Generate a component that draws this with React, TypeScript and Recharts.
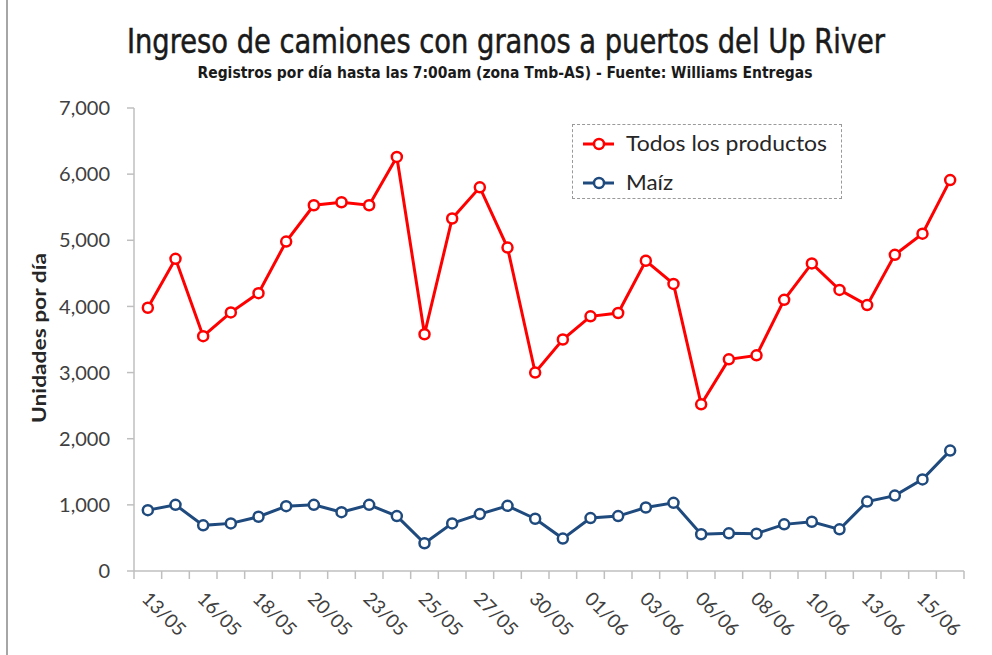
import React from "react";
import { LineChart, Line, XAxis, YAxis, Legend } from "recharts";

const dates = [
  "13/05", "15/05", "16/05", "17/05", "18/05", "19/05", "20/05", "22/05", "23/05", "24/05",
  "25/05", "26/05", "27/05", "29/05", "30/05", "31/05", "01/06", "02/06", "03/06", "05/06",
  "06/06", "07/06", "08/06", "09/06", "10/06", "12/06", "13/06", "14/06", "15/06", "16/06",
];
const todos = [
  3980, 4720, 3550, 3910, 4200, 4980, 5530, 5575, 5530, 6260,
  3580, 5330, 5800, 4890, 3000, 3500, 3850, 3900, 4690, 4340,
  2520, 3200, 3260, 4100, 4650, 4250, 4020, 4780, 5100, 5910,
];
const maiz = [
  920, 1000, 690, 720, 820, 980, 1000, 890, 1000, 830,
  420, 720, 860, 985, 790, 490, 800, 830, 960, 1030,
  555, 570, 565, 705, 745, 630, 1050, 1140, 1385, 1820,
];
const yTicks = [0, 1000, 2000, 3000, 4000, 5000, 6000, 7000];
const seriesNames = ["Todos los productos", "Maíz"];
const seriesColors = ["#FF0000", "#1F4A7E"];

const data = dates.map((d, i) => ({ idx: i, date: d, todos: todos[i], maiz: maiz[i] }));

const xTickValues: number[] = [];
for (let i = 0; i <= dates.length; i++) {
  xTickValues.push(i - 0.5);
  if (i < dates.length && i % 2 === 0) xTickValues.push(i);
}

const AXIS = "#BFBFBF";
const TEXT = "#404040";
const FONT = "Lato, 'Open Sans', 'Liberation Sans', sans-serif";

const XTick = (props: any) => {
  const { x, y, payload } = props;
  const v = payload.value as number;
  if (Math.abs(v - Math.round(v)) > 0.1) {
    return <line x1={x} y1={y} x2={x} y2={y + 8} stroke={AXIS} strokeWidth={1.5} />;
  }
  const label = dates[Math.round(v)];
  return (
    <text
      x={x - 7}
      y={y + 29}
      transform={`rotate(45, ${x - 7}, ${y + 29})`}
      textAnchor="start"
      fontSize={19}
      fontFamily={FONT}
      fill={TEXT}
    >
      {label}
    </text>
  );
};

const legendWidths = [201, 47];

const LegendContent = () => (
  <div
    style={{
      width: 270,
      height: 75,
      boxSizing: "border-box",
      border: "1.5px dashed #9a9a9a",
      background: "#fff",
      position: "relative",
    }}
  >
    <svg width={270} height={75} style={{ position: "absolute", left: 0, top: 0 }}>
      {seriesNames.map((n, i) => {
        const cy = 19 + i * 39;
        return (
          <g key={n}>
            <line x1={10} y1={cy} x2={41} y2={cy} stroke={seriesColors[i]} strokeWidth={3} />
            <circle cx={26} cy={cy} r={5} fill="#fff" stroke={seriesColors[i]} strokeWidth={2.5} />
            <text
              x={53}
              y={cy + 7}
              fontSize={21}
              fontFamily={FONT}
              fill="#262626"
              textLength={legendWidths[i]}
              lengthAdjust="spacingAndGlyphs"
            >
              {n}
            </text>
          </g>
        );
      })}
    </svg>
  </div>
);

export default function App() {
  return (
    <div style={{ position: "absolute", left: 0, top: 0, width: 992, height: 655, background: "#fff" }}>
      <div style={{ position: "absolute", left: 6, top: 0, width: 1.5, height: 655, background: "#A6A6A6" }} />
      <svg width={992} height={100} style={{ position: "absolute", left: 0, top: 0 }}>
        <text
          x={506}
          y={53}
          textAnchor="middle"
          fontSize={34}
          fontFamily="'Liberation Sans Narrow', 'DejaVu Sans Condensed', 'Liberation Sans', sans-serif"
          fill="#1a1a1a"
          stroke="#1a1a1a"
          strokeWidth={0.5}
          textLength={758}
          lengthAdjust="spacingAndGlyphs"
        >
          Ingreso de camiones con granos a puertos del Up River
        </text>
        <text
          x={505}
          y={78}
          textAnchor="middle"
          fontSize={16}
          fontWeight="bold"
          fontFamily="'Liberation Sans Narrow', 'DejaVu Sans Condensed', 'Liberation Sans', sans-serif"
          fill="#1a1a1a"
          textLength={615}
          lengthAdjust="spacingAndGlyphs"
        >
          Registros por día hasta las 7:00am (zona Tmb-AS)  - Fuente: Williams Entregas
        </text>
      </svg>
      <svg width={80} height={655} style={{ position: "absolute", left: 0, top: 0 }}>
        <text
          x={46}
          y={338}
          transform="rotate(-90, 46, 338)"
          textAnchor="middle"
          fontSize={18}
          fontWeight="bold"
          fontFamily={FONT}
          fill="#262626"
          textLength={170}
          lengthAdjust="spacingAndGlyphs"
        >
          Unidades por día
        </text>
      </svg>
      <div style={{ position: "absolute", left: 0, top: 0 }}>
        <LineChart width={992} height={655} data={data} margin={{ top: 108, right: 28, bottom: 0, left: 0 }}>
          <XAxis
            xAxisId={0}
            dataKey="idx"
            type="number"
            domain={[-0.5, dates.length - 0.5]}
            ticks={xTickValues}
            interval={0}
            height={84}
            tickLine={false}
            tickSize={0}
            tickMargin={0}
            axisLine={{ stroke: AXIS, strokeWidth: 1.5 }}
            tick={XTick}
            allowDataOverflow
          />
          <YAxis
            width={134}
            domain={[0, 7000]}
            ticks={yTicks}
            interval={0}
            tickSize={7}
            tickMargin={17}
            tickLine={{ stroke: AXIS, strokeWidth: 1.5 }}
            axisLine={{ stroke: AXIS, strokeWidth: 1.5 }}
            tick={{ fontSize: 20, fontFamily: FONT, fill: TEXT }}
            tickFormatter={(v: number) => v.toLocaleString("en-US")}
          />
          <Legend
            layout="horizontal"
            align="center"
            verticalAlign="middle"
            content={LegendContent}
            wrapperStyle={{ position: "absolute", left: 572, top: 124, width: 270, height: 75 }}
          />
          <Line
            dataKey="todos"
            name={seriesNames[0]}
            stroke={seriesColors[0]}
            strokeWidth={3}
            dot={{ r: 5, fill: "#fff", stroke: seriesColors[0], strokeWidth: 2.5 }}
            activeDot={false}
            isAnimationActive={false}
          />
          <Line
            dataKey="maiz"
            name={seriesNames[1]}
            stroke={seriesColors[1]}
            strokeWidth={3}
            dot={{ r: 5, fill: "#fff", stroke: seriesColors[1], strokeWidth: 2.5 }}
            activeDot={false}
            isAnimationActive={false}
          />
        </LineChart>
      </div>
    </div>
  );
}
